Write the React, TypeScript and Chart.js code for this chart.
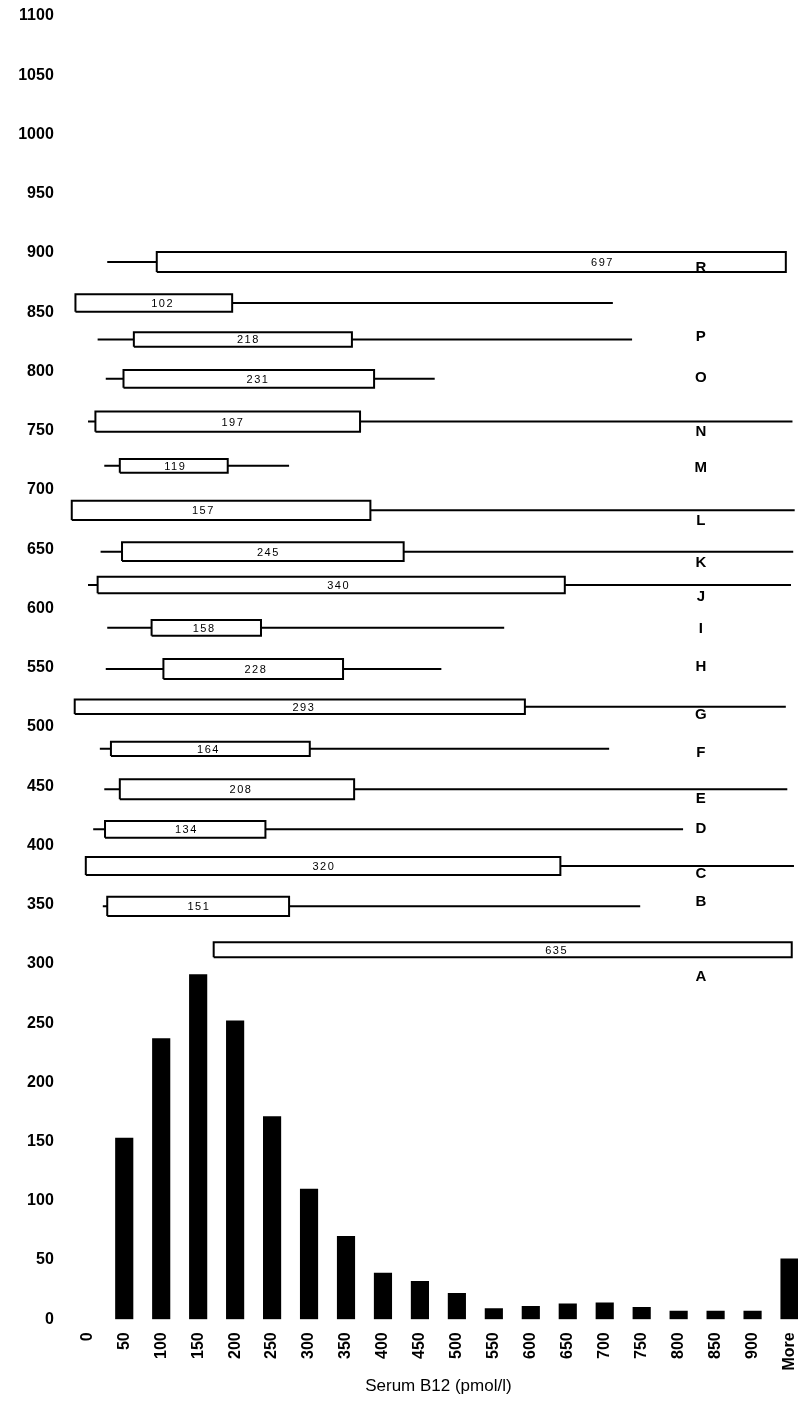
import React, { useEffect, useRef } from 'react';
import { Chart, registerables } from 'chart.js';

Chart.register(...registerables);

// Histogram of serum B12 (pmol/l)
const categories = ['0', '50', '100', '150', '200', '250', '300', '350', '400', '450', '500', '550', '600', '650', '700', '750', '800', '850', '900', 'More'];
const binValues = [0, 50, 100, 150, 200, 250, 300, 350, 400, 450, 500, 550, 600, 650, 700, 750, 800, 850, 900, 950];
const counts = [0, 153, 237, 291, 252, 171, 110, 70, 39, 32, 22, 9, 11, 13, 14, 10, 7, 7, 7, 51];

// Reference ranges A–R (x in pmol/l, y on the same vertical axis)
const letters = ['A', 'B', 'C', 'D', 'E', 'F', 'G', 'H', 'I', 'J', 'K', 'L', 'M', 'N', 'O', 'P', '', 'R'];
const medians = [635, 151, 320, 134, 208, 164, 293, 228, 158, 340, 245, 157, 119, 197, 231, 218, 102, 697];
const boxLow = [171, 27, -2, 24, 44, 32, -17, 103, 87, 14, 47, -21, 44, 11, 49, 63, -16, 94];
const boxHigh = [953, 273, 640, 241, 361, 301, 592, 346, 235, 646, 428, 383, 190, 369, 388, 358, 196, 945];
const whiskerLow: (number | null)[] = [null, 21, null, 8, 23, 17, null, 25, 27, 1, 18, null, 23, 1, 25, 14, null, 27];
const whiskerHigh: (number | null)[] = [null, 748, 956, 806, 947, 706, 945, 479, 564, 952, 955, 957, 273, 954, 470, 737, 711, null];
const yBottom = [305.5, 340.4, 375, 406.5, 438.9, 475.4, 510.9, 540.4, 577, 612.8, 640, 674.6, 714.6, 749.2, 786.3, 820.9, 850.4, 883.9];
const yTop = [318.2, 356.7, 390.2, 420.6, 455.8, 487.5, 523.1, 557.3, 590.2, 626.8, 655.8, 690.9, 726.1, 766.1, 801.2, 833.1, 865.1, 900.8];
const letterY: (number | null)[] = [288.7, 352.5, 375.8, 413.8, 438.9, 478.2, 510, 550.3, 582.4, 609.9, 638.6, 673.8, 718.3, 749.2, 794.7, 829.3, null, 887.2];
const letterX = 830;

const FONT = "'Liberation Sans', Arial, Helvetica, sans-serif";

export default function App() {
  const ref = useRef<HTMLCanvasElement | null>(null);

  useEffect(() => {
    if (!ref.current) return;

    const boxDatasets: any[] = letters.map((_, i) => {
      const mid = (yTop[i] + yBottom[i]) / 2;
      const pts: { x: number; y: number | null }[] = [
        { x: boxLow[i], y: yBottom[i] },
        { x: boxLow[i], y: yTop[i] },
        { x: boxHigh[i], y: yTop[i] },
        { x: boxHigh[i], y: yBottom[i] },
        { x: boxLow[i], y: yBottom[i] },
      ];
      const wl = whiskerLow[i];
      if (wl !== null) {
        pts.push({ x: boxLow[i], y: null }, { x: wl, y: mid }, { x: boxLow[i], y: mid });
      }
      const wh = whiskerHigh[i];
      if (wh !== null) {
        pts.push({ x: boxHigh[i], y: null }, { x: boxHigh[i], y: mid }, { x: wh, y: mid });
      }
      return {
        type: 'line',
        data: pts,
        borderColor: '#000',
        borderWidth: 2,
        pointRadius: 0,
        fill: false,
        tension: 0,
        spanGaps: false,
        borderJoinStyle: 'miter',
        clip: false,
      };
    });

    const labelPlugin = {
      id: 'rangeLabels',
      afterDatasetsDraw(chart: any) {
        const { ctx, scales } = chart;
        const xs = scales.x;
        const ys = scales.y;
        ctx.save();
        ctx.fillStyle = '#000';
        ctx.textAlign = 'center';
        ctx.textBaseline = 'middle';
        ctx.font = `11px ${FONT}`;
        try { (ctx as any).letterSpacing = '1.5px'; } catch (e) {}
        medians.forEach((m, i) => {
          const mid = (yTop[i] + yBottom[i]) / 2;
          ctx.fillText(String(m), xs.getPixelForValue(m), ys.getPixelForValue(mid) + 1);
        });
        try { (ctx as any).letterSpacing = '0px'; } catch (e) {}
        ctx.font = `bold 15px ${FONT}`;
        letters.forEach((l, i) => {
          const ly = letterY[i];
          if (!l || ly === null) return;
          ctx.fillText(l, xs.getPixelForValue(letterX), ys.getPixelForValue(ly));
        });
        ctx.restore();
      },
    };

    const chart = new Chart(ref.current, {
      type: 'bar',
      data: {
        datasets: [
          {
            type: 'bar',
            data: binValues.map((v, i) => ({ x: v, y: counts[i] === 0 ? null : counts[i] })),
            backgroundColor: '#000',
            borderWidth: 0,
            barThickness: 17.5,
          } as any,
          ...boxDatasets,
        ],
      },
      options: {
        animation: false,
        responsive: true,
        maintainAspectRatio: false,
        layout: { padding: { top: 16, right: 22, left: 0, bottom: 0 } },
        plugins: { legend: { display: false }, tooltip: { enabled: false } },
        scales: {
          x: {
            type: 'linear',
            min: -25,
            max: 975,
            offset: false,
            grid: { display: false, drawTicks: false },
            border: { display: false },
            afterBuildTicks: (s: any) => {
              s.ticks = binValues.map((v) => ({ value: v }));
            },
            afterFit: (s: any) => {
              s.height = 81.7;
              s.paddingLeft = 0;
              s.paddingRight = 0;
              s.paddingTop = 0;
              s.paddingBottom = 0;
            },
            ticks: {
              autoSkip: false,
              minRotation: 90,
              maxRotation: 90,
              padding: 13,
              color: '#000',
              font: { family: FONT, size: 16, weight: 'bold' },
              callback: (value: any) => {
                const idx = binValues.indexOf(Number(value));
                return idx >= 0 ? categories[idx] : '';
              },
            },
            title: {
              display: true,
              text: 'Serum B12 (pmol/l)',
              color: '#000',
              font: { family: FONT, size: 17 },
              padding: { top: 0, bottom: 4 },
            },
          },
          y: {
            type: 'linear',
            min: 0,
            max: 1100,
            grid: { display: false, drawTicks: false },
            border: { display: false },
            afterFit: (s: any) => {
              s.width = 68.8;
              s.paddingTop = 0;
              s.paddingBottom = 0;
              s.paddingLeft = 0;
              s.paddingRight = 0;
            },
            ticks: {
              stepSize: 50,
              padding: 15,
              color: '#000',
              font: { family: FONT, size: 16, weight: 'bold' },
              callback: (value: any) => String(value),
            },
          },
        },
      } as any,
      plugins: [labelPlugin],
    });

    return () => chart.destroy();
  }, []);

  return (
    <div style={{ position: 'absolute', left: 0, top: 0, width: 798, height: 1401, overflow: 'hidden', background: '#fff' }}>
      <div style={{ position: 'relative', width: 830, height: 1401 }}>
        <canvas ref={ref} />
      </div>
    </div>
  );
}
